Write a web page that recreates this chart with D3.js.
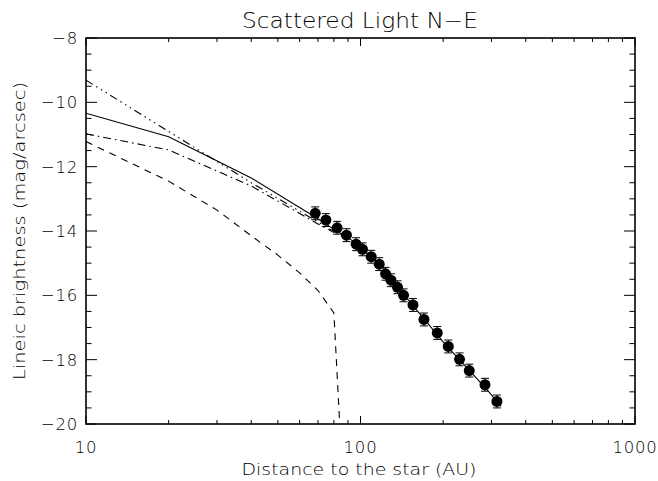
<!DOCTYPE html>
<html>
<head>
<meta charset="utf-8">
<script src="https://cdn.jsdelivr.net/npm/d3@7"></script>
<style>
  body { margin: 0; background: #fff; }
  text { font-family: "DejaVu Sans", sans-serif; font-weight: 200; fill: #000; }
</style>
</head>
<body>
<div id="chart"></div>
<script>
// observed points (AU, mag/arcsec)
const distAU = [68.4, 74.8, 82.2, 88.9, 96.4, 101.7, 109.4, 117, 123.4, 129.1,
  136.4, 143.5, 155.3, 170.3, 190.4, 208.8, 229.5, 249, 284.1, 314];
const brightness = [-13.45, -13.66, -13.90, -14.13, -14.41, -14.57, -14.80, -15.03, -15.33, -15.53,
  -15.75, -16.00, -16.30, -16.75, -17.17, -17.59, -17.99, -18.34, -18.78, -19.30];
const errBar = [0.2, 0.2, 0.2, 0.2, 0.2, 0.2, 0.2, 0.2, 0.2, 0.2,
  0.2, 0.2, 0.2, 0.2, 0.2, 0.2, 0.2, 0.2, 0.2, 0.2];

// model curves
const solidX = [10, 20, 40, 70, 80, 90, 100, 120, 140, 160, 200, 250, 290, 325];
const solidY = [-10.34, -11.07, -12.35, -13.62, -13.95, -14.2, -14.5, -15.1, -15.85, -16.45, -17.45, -18.35, -18.95, -19.45];
const dashX = [10, 20, 30, 40, 50, 60, 70, 80, 84];
const dashY = [-11.22, -12.45, -13.35, -14.15, -14.75, -15.3, -15.85, -16.55, -20.0];
const dashDotX = [10, 20, 40, 70, 80];
const dashDotY = [-10.98, -11.48, -12.6, -13.78, -14.05];
const dash3DotX = [10, 40, 70, 80];
const dash3DotY = [-9.31, -12.5, -13.72, -14.02];

const xTicks = [10, 100, 1000];
const yTicks = [-8, -10, -12, -14, -16, -18, -20];

const width = 658, height = 481;
const mLeft = 86, mRight = 635, mTop = 38, mBottom = 424;

const svg = d3.select("#chart").append("svg")
  .attr("width", width).attr("height", height);

const x = d3.scaleLog().domain([10, 1000]).range([mLeft, mRight]);
const y = d3.scaleLinear().domain([-20, -8]).range([mBottom, mTop]);

svg.append("defs").append("clipPath").attr("id", "plotClip")
  .append("rect").attr("x", mLeft).attr("y", mTop)
  .attr("width", mRight - mLeft).attr("height", mBottom - mTop);

// minor ticks
const xMinor = [];
[10, 100].forEach(d => { for (let k = 2; k <= 9; k++) xMinor.push(d * k); });
const yMinor = d3.range(-20, -7.9, 0.5).filter(v => !yTicks.includes(v));

const axisG = svg.append("g");
const tickStyle = s => s.attr("stroke", "#000").attr("stroke-width", 1);

[[mBottom, -1], [mTop, 1]].forEach(([yy, dir]) => {
  axisG.selectAll(null).data(xTicks).enter().append("line")
    .attr("x1", d => x(d)).attr("x2", d => x(d))
    .attr("y1", yy).attr("y2", yy + dir * 8)
    .call(tickStyle);
  axisG.selectAll(null).data(xMinor).enter().append("line")
    .attr("x1", d => x(d)).attr("x2", d => x(d))
    .attr("y1", yy).attr("y2", yy + dir * 4)
    .call(tickStyle);
});
[[mLeft, 1], [mRight, -1]].forEach(([xx, dir]) => {
  axisG.selectAll(null).data(yTicks).enter().append("line")
    .attr("y1", d => y(d)).attr("y2", d => y(d))
    .attr("x1", xx).attr("x2", xx + dir * 11)
    .call(tickStyle);
  axisG.selectAll(null).data(yMinor).enter().append("line")
    .attr("y1", d => y(d)).attr("y2", d => y(d))
    .attr("x1", xx).attr("x2", xx + dir * 5.5)
    .call(tickStyle);
});

axisG.append("rect")
  .attr("x", mLeft).attr("y", mTop)
  .attr("width", mRight - mLeft).attr("height", mBottom - mTop)
  .attr("fill", "none").attr("stroke", "#000").attr("stroke-width", 1.6);

// tick labels
svg.selectAll(null).data(xTicks).enter().append("text")
  .attr("x", d => x(d)).attr("y", mBottom + 29)
  .attr("text-anchor", "middle")
  .style("font-size", "16.5px").style("letter-spacing", "0.8px")
  .text(d => d);
svg.selectAll(null).data(yTicks).enter().append("text")
  .attr("x", mLeft - 8).attr("y", d => y(d) + 6)
  .attr("text-anchor", "end")
  .style("font-size", "16.5px").style("letter-spacing", "0.8px")
  .text(d => "\u2212" + Math.abs(d));

// titles
svg.append("text")
  .attr("x", 360).attr("y", 28)
  .attr("text-anchor", "middle")
  .attr("textLength", 236).attr("lengthAdjust", "spacingAndGlyphs")
  .style("font-size", "21px")
  .text("Scattered Light N\u2212E");
svg.append("text")
  .attr("x", 359).attr("y", 475)
  .attr("text-anchor", "middle")
  .attr("textLength", 235).attr("lengthAdjust", "spacingAndGlyphs")
  .style("font-size", "16px")
  .text("Distance to the star (AU)");
svg.append("text")
  .attr("transform", "translate(25,231) rotate(-90)")
  .attr("text-anchor", "middle")
  .attr("textLength", 298).attr("lengthAdjust", "spacingAndGlyphs")
  .style("font-size", "16px")
  .text("Lineic brightness (mag/arcsec)");

// model lines
const plot = svg.append("g").attr("clip-path", "url(#plotClip)");
const line = d3.line().x(d => x(d[0])).y(d => y(d[1]));
const models = [
  { xs: solidX, ys: solidY, dash: null },
  { xs: dashX, ys: dashY, dash: "7,6" },
  { xs: dashDotX, ys: dashDotY, dash: "8,4,1.5,4" },
  { xs: dash3DotX, ys: dash3DotY, dash: "8,4,1.5,4,1.5,4,1.5,4" }
];
plot.selectAll("path.model").data(models).enter().append("path")
  .attr("class", "model")
  .attr("d", m => line(d3.zip(m.xs, m.ys)))
  .attr("fill", "none").attr("stroke", "#000").attr("stroke-width", 1.1)
  .attr("stroke-dasharray", m => m.dash);

// data points with error bars
const pts = d3.zip(distAU, brightness, errBar);
const pg = plot.append("g");
pg.selectAll("line.eb").data(pts).enter().append("line")
  .attr("x1", d => x(d[0])).attr("x2", d => x(d[0]))
  .attr("y1", d => y(d[1] + d[2])).attr("y2", d => y(d[1] - d[2]))
  .attr("stroke", "#000");
[1, -1].forEach(s => {
  pg.selectAll(null).data(pts).enter().append("line")
    .attr("x1", d => x(d[0]) - 4).attr("x2", d => x(d[0]) + 4)
    .attr("y1", d => y(d[1] + s * d[2])).attr("y2", d => y(d[1] + s * d[2]))
    .attr("stroke", "#000");
});
pg.selectAll("circle").data(pts).enter().append("circle")
  .attr("cx", d => x(d[0])).attr("cy", d => y(d[1]))
  .attr("r", 5.5).attr("fill", "#000");
</script>
</body>
</html>
